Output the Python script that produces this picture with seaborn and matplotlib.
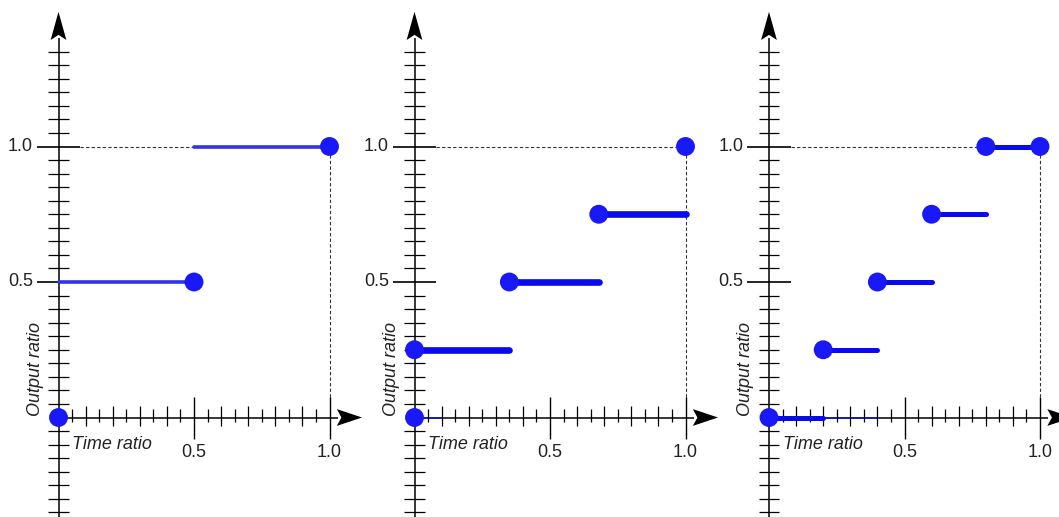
import numpy as np
import pandas as pd
import seaborn as sns
import matplotlib.pyplot as plt

sns.set_theme(style="white")
plt.rcParams['font.family'] = ['Liberation Sans', 'DejaVu Sans']

# --- data ---
# panel 1: two steps
seg_start_1 = [0.0, 0.5]
seg_end_1 = [0.5, 1.0]
seg_level_1 = [0.5, 1.0]
dot_x_1 = [0.0, 0.5, 1.0]
dot_y_1 = [0.0, 0.5, 1.0]

# panel 2: three steps
seg_start_2 = [0.0, 0.35, 0.68]
seg_end_2 = [0.35, 0.68, 1.0]
seg_level_2 = [0.25, 0.5, 0.75]
dot_x_2 = [0.0, 0.0, 0.35, 0.68, 1.0]
dot_y_2 = [0.0, 0.25, 0.5, 0.75, 1.0]
faint_start_2 = [0.0]
faint_end_2 = [0.1]

# panel 3: five steps
seg_start_3 = [0.0, 0.2, 0.4, 0.6, 0.8]
seg_end_3 = [0.2, 0.4, 0.6, 0.8, 1.0]
seg_level_3 = [0.0, 0.25, 0.5, 0.75, 1.0]
dot_x_3 = [0.0, 0.2, 0.4, 0.6, 0.8, 1.0]
dot_y_3 = [0.0, 0.25, 0.5, 0.75, 1.0, 1.0]
faint_start_3 = [0.2]
faint_end_3 = [0.4]

major_ticks = [0.5, 1.0]
major_labels = ['0.5', '1.0']

# --- layout (pixels) ---
W, H = 1059, 517
SCALE = 271            # pixels per data unit, same on both axes
origins_x = [58.5, 414.5, 769]
origin_y = 99.5        # from bottom
XLIM = (-0.22, 1.12)
YLIM = (-0.37, 1.55)

TXT = '#222222'
DOT = '#1818f8'
FS = 13


def draw_axes(ax):
    k = dict(color='black', solid_capstyle='butt', clip_on=False)
    # y axis + arrow
    ax.plot([0, 0], [YLIM[0], 1.40], lw=1.1, **k)
    ax.fill([0, -0.029, 0, 0.029], [1.497, 1.393, 1.412, 1.393], color='black', lw=0, clip_on=False)
    # x axis + arrow
    ax.plot([0, 1.03], [0, 0], lw=1.1, **k)
    ax.fill([1.12, 1.027, 1.044, 1.027], [0, 0.031, 0, -0.031], color='black', lw=0, clip_on=False)
    # y minor ticks
    for t in np.arange(-0.35, 1.36, 0.05):
        if min(abs(t), abs(t - 0.5), abs(t - 1.0)) < 1e-6:
            continue
        ax.plot([-0.037, 0.037], [t, t], lw=0.9, **k)
    # x minor ticks, every 0.05, longer on tenths
    for i in range(1, 20):
        if i == 10:
            continue
        t = i * 0.05
        lo, hi = (-0.03, 0.044) if i % 2 == 0 else (-0.018, 0.032)
        ax.plot([t, t], [lo, hi], lw=0.9, **k)
    # major ticks + labels
    for t, lab in zip(major_ticks, major_labels):
        ax.plot([-0.08, 0.08], [t, t], lw=1.2, **k)
        ax.plot([t, t], [-0.08, 0.075], lw=1.0, **k)
        ax.text(-0.094, t, lab, ha='right', va='center', fontsize=FS, color=TXT)
        ax.text(t, -0.128, lab, ha='center', va='center', fontsize=FS, color=TXT)
    # guide lines to (1, 1)
    ax.plot([0.08, 1.0], [1.0, 1.0], ls=(0, (3, 2)), lw=0.8, color='#333333', zorder=1)
    ax.plot([1.0, 1.0], [0.075, 1.0], ls=(0, (3, 2)), lw=0.8, color='#333333', zorder=1)
    # axis titles
    ax.text(-0.086, 0.005, 'Output ratio', rotation=90, ha='center', va='bottom',
            fontsize=FS, style='italic', color=TXT)
    ax.text(0.05, -0.1, 'Time ratio', ha='left', va='center',
            fontsize=FS, style='italic', color=TXT)


def draw_steps(ax, starts, ends, levels, dx, dy, lw, color, faint=None):
    n = len(starts)
    df = pd.DataFrame({'x': starts + ends, 'y': levels + levels,
                       'seg': list(range(n)) * 2})
    sns.lineplot(data=df, x='x', y='y', units='seg', estimator=None, sort=False,
                 color=color, lw=lw, ax=ax, legend=False, zorder=3,
                 solid_capstyle='round')
    if faint is not None:
        fs, fe = faint
        fdf = pd.DataFrame({'x': fs + fe, 'y': [0.0] * (2 * len(fs)),
                            'seg': list(range(len(fs))) * 2})
        sns.lineplot(data=fdf, x='x', y='y', units='seg', estimator=None, sort=False,
                     color=color, lw=1.2, ax=ax, legend=False, zorder=2, alpha=0.7)
    sns.scatterplot(x=dx, y=dy, s=185, color=DOT, edgecolor='none', ax=ax,
                    zorder=5, legend=False, clip_on=False)


fig = plt.figure(figsize=(W / 100, H / 100), dpi=100)
panels = [
    (seg_start_1, seg_end_1, seg_level_1, dot_x_1, dot_y_1, 2.6, '#3232f0', None),
    (seg_start_2, seg_end_2, seg_level_2, dot_x_2, dot_y_2, 4.8, '#0a0aee',
     (faint_start_2, faint_end_2)),
    (seg_start_3, seg_end_3, seg_level_3, dot_x_3, dot_y_3, 3.6, '#0a0aee',
     (faint_start_3, faint_end_3)),
]
for ox, (st, en, lv, dx, dy, lw, col, faint) in zip(origins_x, panels):
    left = ox + XLIM[0] * SCALE
    bottom = origin_y + YLIM[0] * SCALE
    width = (XLIM[1] - XLIM[0]) * SCALE
    height = (YLIM[1] - YLIM[0]) * SCALE
    ax = fig.add_axes([left / W, bottom / H, width / W, height / H])
    ax.patch.set_alpha(0)
    draw_axes(ax)
    draw_steps(ax, st, en, lv, dx, dy, lw, col, faint)
    ax.set_xlim(*XLIM)
    ax.set_ylim(*YLIM)
    ax.set_axis_off()

fig.savefig('out.png', dpi=100, facecolor='white')
